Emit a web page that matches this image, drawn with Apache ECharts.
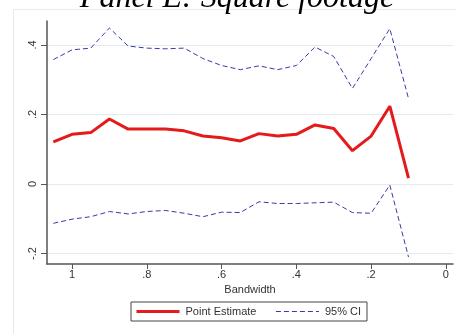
<!DOCTYPE html>
<html>
<head>
<meta charset="utf-8">
<script src="https://cdn.jsdelivr.net/npm/echarts@6/dist/echarts.min.js"></script>
<style>html,body{margin:0;padding:0;background:#fff;}#c{width:456px;height:334px;}</style>
</head>
<body>
<div id="c"></div>
<script>
const titleText = 'Panel E: Square footage';
const bandwidth = [1.05,1.0,0.95,0.9,0.85,0.8,0.75,0.7,0.65,0.6,0.55,0.5,0.45,0.4,0.35,0.3,0.25,0.2,0.15,0.1];
const pointEstimate = [0.121,0.143,0.148,0.187,0.158,0.158,0.158,0.153,0.138,0.133,0.124,0.145,0.138,0.143,0.170,0.160,0.096,0.138,0.224,0.017];
const ciUpper = [0.358,0.386,0.391,0.449,0.397,0.391,0.389,0.391,0.361,0.341,0.329,0.340,0.329,0.341,0.394,0.367,0.275,0.361,0.447,0.246];
const ciLower = [-0.113,-0.101,-0.094,-0.079,-0.086,-0.079,-0.076,-0.084,-0.094,-0.081,-0.082,-0.051,-0.056,-0.056,-0.054,-0.052,-0.082,-0.084,-0.003,-0.210];
const xTicks = [0,0.2,0.4,0.6,0.8,1];
const yTicks = [-0.2,0,0.2,0.4];

function fmt(v){
  if (Math.abs(v) < 1e-9) return '0';
  if (Math.abs(v-1) < 1e-9) return '1';
  let s = String(+v.toFixed(2));
  return s.replace('0.', '.');
}
const pair = (ys) => bandwidth.map((x,i)=>[x,ys[i]]);
const RED = '#e41a1c', BLUE = '#3a3aa8';

const chart = echarts.init(document.getElementById('c'), null, {renderer:'canvas'});
chart.setOption({
  animation:false,
  backgroundColor:'#ffffff',
  graphic:[
    {type:'rect', shape:{x:13.5,y:9.5,width:460,height:340}, style:{fill:'none',stroke:'#e6ecee',lineWidth:1}, z:-1},
    {type:'text', x:237, y:-1, style:{text:titleText, font:'italic 32px "Liberation Serif"', fill:'#000', align:'center', verticalAlign:'middle'}}
  ],
  grid:{left:47, right:3, top:21, bottom:70, containLabel:false},
  xAxis:{
    type:'value', inverse:true, min:-0.019, max:1.067,
    name:'Bandwidth', nameLocation:'middle', nameGap:19,
    nameTextStyle:{color:'#333', fontSize:11, fontFamily:'Liberation Sans'},
    axisLine:{show:true, onZero:false, lineStyle:{color:'#555', width:1.5}},
    axisTick:{show:true, length:5, customValues:xTicks, lineStyle:{color:'#555'}},
    axisLabel:{customValues:xTicks, formatter:fmt, color:'#333', fontSize:11, fontFamily:'Liberation Sans', margin:5},
    splitLine:{show:false}
  },
  yAxis:{
    type:'value', min:-0.23, max:0.469, position:'left',
    axisLine:{show:true, onZero:false, lineStyle:{color:'#555', width:1.5}},
    axisTick:{show:true, length:6, customValues:yTicks, lineStyle:{color:'#555'}},
    axisLabel:{customValues:yTicks, formatter:fmt, rotate:90, color:'#333', fontSize:11, fontFamily:'Liberation Sans', margin:9},
    splitLine:{show:true, lineStyle:{color:'#e3ebee', width:1}}
  },
  legend:{
    left:131, top:302, orient:'horizontal',
    data:['Point Estimate','95% CI'],
    itemWidth:43, itemHeight:11, itemGap:19,
    padding:[4,6,4,4],
    borderColor:'#444', borderWidth:1, borderRadius:0,
    itemStyle:{opacity:0},
    lineStyle:{width:'inherit', color:'inherit', type:'inherit'},
    textStyle:{color:'#333', fontSize:11, fontFamily:'Liberation Sans', padding:[0,0,0,1]}
  },
  series:[
    {name:'Point Estimate', type:'line', data:pair(pointEstimate), showSymbol:false, symbol:'none',
     lineStyle:{color:RED, width:3}, itemStyle:{color:RED}, z:3},
    {name:'95% CI', type:'line', data:pair(ciUpper), showSymbol:false, symbol:'none',
     lineStyle:{color:BLUE, width:1, type:[5,3]}, itemStyle:{color:BLUE}, z:2},
    {name:'95% CI', type:'line', data:pair(ciLower), showSymbol:false, symbol:'none',
     lineStyle:{color:BLUE, width:1, type:[5,3]}, itemStyle:{color:BLUE}, z:2}
  ]
});
</script>
</body>
</html>
